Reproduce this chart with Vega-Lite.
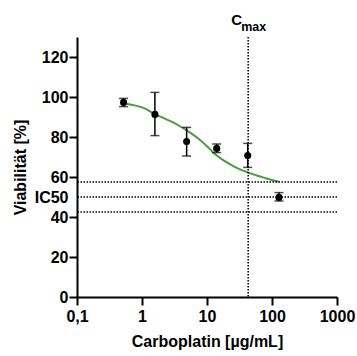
{
  "$schema": "https://vega.github.io/schema/vega-lite/v6.json",
  "width": 260,
  "height": 260,
  "autosize": "none",
  "padding": {"left": 77, "top": 37, "right": 20, "bottom": 59},
  "background": "white",
  "config": {
    "view": {"stroke": null},
    "font": "Liberation Sans",
    "axis": {
      "domainColor": "black",
      "domainWidth": 2,
      "tickColor": "black",
      "tickWidth": 2,
      "tickSize": 8,
      "grid": false,
      "labelFont": "Liberation Sans",
      "labelFontSize": 16,
      "labelFontWeight": "bold",
      "labelColor": "black",
      "labelOverlap": false,
      "titleFont": "Liberation Sans",
      "titleFontSize": 16,
      "titleFontWeight": "bold",
      "titleColor": "black"
    },
    "axisX": {"labelPadding": 3, "titlePadding": 9, "labelFlush": false},
    "axisY": {"labelPadding": 1, "titlePadding": 6}
  },
  "datasets": {
    "points": [
      {"conc": 0.52, "v": 97.3, "lo": 95.2, "hi": 99.3},
      {"conc": 1.58, "v": 91.3, "lo": 80.7, "hi": 102.3},
      {"conc": 4.86, "v": 77.7, "lo": 70.5, "hi": 84.8},
      {"conc": 14.1, "v": 74.3, "lo": 72.2, "hi": 76.5},
      {"conc": 42.3, "v": 70.7, "lo": 64.8, "hi": 76.8},
      {"conc": 128, "v": 49.8, "lo": 48.0, "hi": 52.2}
    ],
    "curve": [
      {"conc": 0.55, "v": 96.8},
      {"conc": 0.8, "v": 95.7},
      {"conc": 1.1, "v": 94.3},
      {"conc": 1.58, "v": 91.4},
      {"conc": 2.2, "v": 89.3},
      {"conc": 3.0, "v": 87.3},
      {"conc": 4.0, "v": 85.0},
      {"conc": 5.5, "v": 82.2},
      {"conc": 7.5, "v": 79.0},
      {"conc": 10, "v": 75.4},
      {"conc": 13.5, "v": 71.2},
      {"conc": 18, "v": 68.3},
      {"conc": 25, "v": 65.6},
      {"conc": 35, "v": 63.3},
      {"conc": 45, "v": 62.0},
      {"conc": 60, "v": 60.6},
      {"conc": 80, "v": 59.4},
      {"conc": 100, "v": 58.5},
      {"conc": 128, "v": 57.6}
    ],
    "hlines": [{"v": 57.5}, {"v": 50}, {"v": 42.5}],
    "cmax": [{"conc": 43, "v": 130}]
  },
  "layer": [
    {
      "encoding": {
        "x": {
          "field": "conc",
          "type": "quantitative",
          "scale": {"type": "log", "domain": [0.1, 1000], "nice": false},
          "title": "Carboplatin [µg/mL]",
          "axis": {
            "values": [0.1, 1, 10, 100, 1000],
            "labelExpr": "datum.value < 1 ? '0,1' : format(datum.value, 'd')"
          }
        },
        "y": {
          "field": "v",
          "type": "quantitative",
          "scale": {"domain": [0, 130], "nice": false},
          "title": "Viabilität [%]",
          "axis": {
            "values": [0, 20, 40, 50, 60, 80, 100, 120],
            "labelExpr": "datum.value == 50 ? 'IC50' : datum.label",
            "tickOpacity": {"condition": {"test": "datum.value == 50", "value": 0}, "value": 1}
          }
        }
      },
      "layer": [
        {
          "data": {"name": "curve"},
          "mark": {"type": "line", "color": "#4a9e3e", "strokeWidth": 2, "interpolate": "monotone"}
        },
        {
          "data": {"name": "points"},
          "transform": [{"fold": ["lo", "hi"], "as": ["k", "v"]}],
          "mark": {"type": "line", "color": "black", "strokeWidth": 1.5},
          "encoding": {"detail": {"field": "conc", "type": "nominal"}}
        },
        {
          "data": {"name": "points"},
          "transform": [{"fold": ["lo", "hi"], "as": ["k", "v"]}],
          "mark": {"type": "tick", "orient": "horizontal", "color": "black", "thickness": 1.5, "size": 9}
        },
        {
          "data": {"name": "points"},
          "mark": {"type": "point", "shape": "circle", "filled": true, "color": "black", "opacity": 1, "size": 50}
        },
        {
          "data": {"name": "cmax"},
          "mark": {"type": "text", "text": "C", "font": "Liberation Sans", "fontWeight": "bold", "fontSize": 15, "align": "right", "baseline": "alphabetic", "dx": -6, "dy": -12, "color": "black"}
        },
        {
          "data": {"name": "cmax"},
          "mark": {"type": "text", "text": "max", "font": "Liberation Sans", "fontWeight": "bold", "fontSize": 12.5, "align": "left", "baseline": "alphabetic", "dx": -7, "dy": -6, "color": "black"}
        }
      ]
    },
    {
      "data": {"name": "hlines"},
      "mark": {"type": "rule", "color": "black", "strokeWidth": 1.5, "strokeDash": [1.5, 1.5]},
      "encoding": {
        "y": {
          "field": "v",
          "type": "quantitative",
          "scale": {"domain": [0, 130], "nice": false},
          "title": "Viabilität [%]",
          "axis": {
            "values": [0, 20, 40, 50, 60, 80, 100, 120],
            "labelExpr": "datum.value == 50 ? 'IC50' : datum.label",
            "tickOpacity": {"condition": {"test": "datum.value == 50", "value": 0}, "value": 1}
          }
        }
      }
    },
    {
      "data": {"name": "cmax"},
      "mark": {"type": "rule", "color": "black", "strokeWidth": 1.5, "strokeDash": [1.5, 1.5]},
      "encoding": {
        "x": {
          "field": "conc",
          "type": "quantitative",
          "scale": {"type": "log", "domain": [0.1, 1000], "nice": false},
          "title": "Carboplatin [µg/mL]",
          "axis": {
            "values": [0.1, 1, 10, 100, 1000],
            "labelExpr": "datum.value < 1 ? '0,1' : format(datum.value, 'd')"
          }
        }
      }
    }
  ]
}
